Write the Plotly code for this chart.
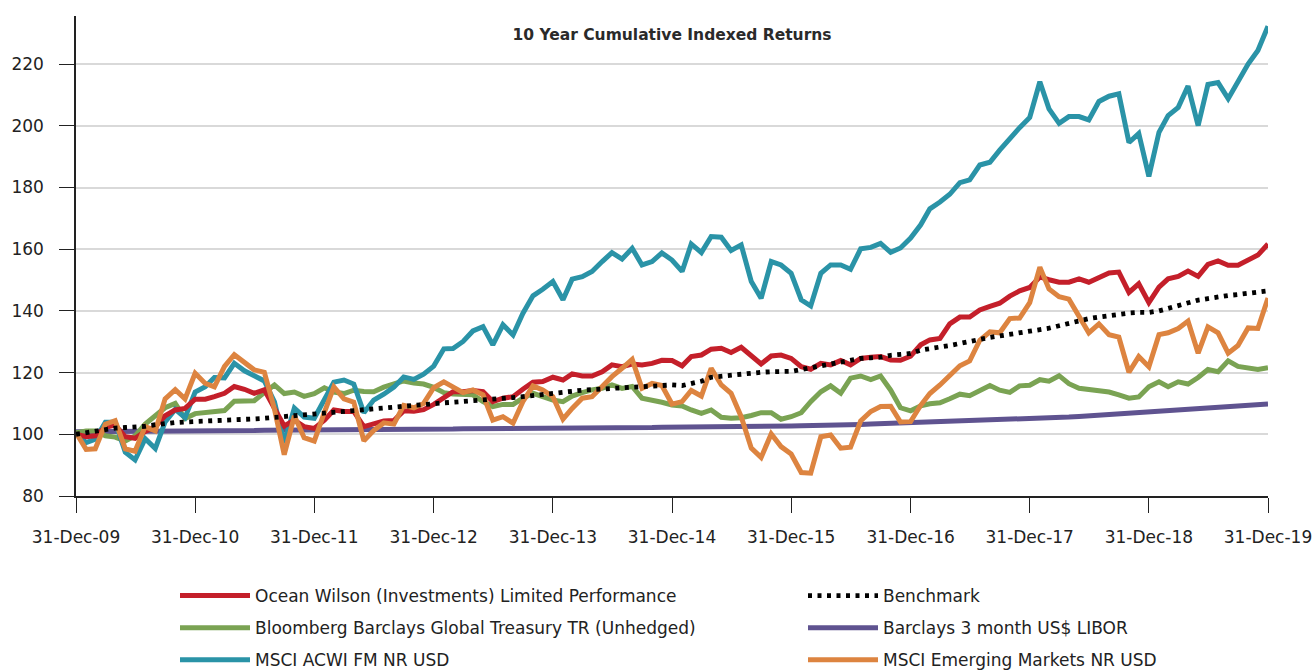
import calendar
import plotly.graph_objects as go

# ---- data -------------------------------------------------------------
months = []
for y in range(2009, 2020):
    for m in range(1, 13):
        if (y == 2009 and m < 12):
            continue
        months.append(f"{y}-{m:02d}-{calendar.monthrange(y, m)[1]:02d}")

tick_dates = [f"{y}-12-31" for y in range(2009, 2020)]
tick_labels = [f"31-Dec-{str(y)[2:]}" for y in range(2009, 2020)]

ocean_wilson = [
    100.0, 99.2, 99.5, 102.3, 103.0, 99.2, 98.7, 100.9, 102.5, 106.0, 107.9, 108.4,
    111.4, 111.4, 112.2, 113.3, 115.5, 114.6, 113.3, 114.4, 108.4, 102.7, 104.6, 102.5,
    101.9, 104.6, 107.9, 107.4, 107.4, 102.5, 103.4, 104.3, 104.5, 107.6, 107.5, 108.0,
    109.7, 111.8, 113.8, 113.8, 114.2, 113.8, 110.6, 111.7, 112.2, 114.6, 116.9, 117.1,
    118.5, 117.6, 119.6, 118.9, 118.9, 120.3, 122.5, 121.9, 122.8, 122.5, 123.0, 124.0,
    123.9, 122.2, 125.2, 125.7, 127.6, 127.9, 126.5, 128.2, 125.4, 122.8, 125.4, 125.7,
    124.6, 121.9, 121.1, 123.0, 122.5, 123.9, 122.5, 124.6, 125.0, 125.2, 124.1, 124.0,
    125.3, 129.0, 130.6, 131.1, 135.8, 138.0, 138.0, 140.3, 141.5, 142.5, 144.8, 146.5,
    147.6, 151.0, 150.1, 149.3, 149.3, 150.4, 149.3, 151.0, 152.3, 152.6, 146.0, 148.8,
    142.7, 147.7, 150.4, 151.2, 152.9, 151.2, 155.1, 156.2, 154.8, 154.8, 156.7, 158.1,
    161.7,
]

benchmark = [
    100.0, 100.6, 101.1, 101.6, 102.0, 102.2, 102.3, 102.6, 103.1, 103.6, 103.8, 104.0,
    104.1, 104.2, 104.4, 104.5, 104.7, 104.9, 105.0, 105.2, 105.5, 105.7, 106.0, 106.3,
    106.6, 106.9, 107.3, 107.6, 107.8, 108.2, 108.4, 108.5, 108.7, 109.1, 109.5, 109.8,
    110.0, 110.2, 110.4, 110.6, 110.8, 111.2, 111.5, 111.7, 111.9, 112.2, 112.6, 113.0,
    113.3, 113.7, 114.0, 114.3, 114.5, 114.7, 114.9, 115.1, 115.3, 115.5, 115.6, 115.8,
    116.0, 115.8, 116.4, 117.2, 118.5, 118.9, 119.3, 119.6, 119.9, 120.1, 120.3, 120.3,
    120.4, 121.0, 121.6, 122.4, 122.9, 123.5, 124.3, 124.6, 124.8, 125.0, 125.6, 126.0,
    126.2, 127.3, 127.9, 128.3, 128.8, 129.5, 130.3, 130.8, 131.4, 131.9, 132.4, 132.9,
    133.2, 133.6, 134.4, 135.2, 136.0, 136.9, 137.5, 138.0, 138.5, 138.9, 139.3, 139.5,
    139.5, 140.0, 140.8, 141.8, 142.8, 143.5, 144.0, 144.6, 145.0, 145.3, 145.6, 146.0,
    146.5,
]

global_treasury = [
    100.5, 101.1, 101.1, 99.5, 99.1, 97.8, 99.5, 103.3, 106.0, 108.6, 110.0, 105.1,
    106.7, 107.0, 107.1, 107.7, 110.7, 110.7, 110.9, 113.5, 116.0, 113.2, 113.7, 112.3,
    113.2, 115.1, 113.7, 113.2, 114.3, 113.9, 113.8, 115.3, 116.2, 117.3, 116.6, 116.3,
    115.2, 113.5, 113.1, 112.8, 112.8, 110.6, 109.0, 109.7, 109.7, 111.7, 113.3, 112.2,
    111.1, 110.6, 112.4, 113.5, 114.4, 114.9, 116.0, 114.9, 115.5, 111.7, 111.1, 110.4,
    109.5, 109.2, 107.9, 106.8, 107.9, 105.5, 105.2, 105.4, 106.1, 107.0, 107.0, 104.9,
    105.7, 107.0, 110.6, 113.8, 115.7, 113.3, 118.2, 118.9, 117.7, 118.9, 114.3, 108.6,
    107.6, 109.2, 109.9, 110.2, 111.5, 113.0, 112.5, 114.2, 115.8, 114.3, 113.6, 115.7,
    115.9, 117.7, 117.2, 119.0, 116.4, 114.9, 114.6, 113.9, 113.7, 112.8, 111.7, 112.1,
    115.4, 117.0, 115.4, 117.0, 116.3, 118.4, 121.0, 120.3, 123.8, 122.0, 121.6, 121.0,
    121.6,
]

libor_3m = [
    100.8, 100.8, 100.9, 100.9, 100.9, 100.9, 101.0, 101.0, 101.0, 101.0, 101.1, 101.1,
    101.1, 101.1, 101.1, 101.2, 101.2, 101.2, 101.2, 101.3, 101.3, 101.3, 101.3, 101.4,
    101.4, 101.4, 101.4, 101.5, 101.5, 101.5, 101.5, 101.6, 101.6, 101.6, 101.6, 101.7,
    101.7, 101.7, 101.7, 101.8, 101.8, 101.8, 101.8, 101.9, 101.9, 101.9, 101.9, 102.0,
    102.0, 102.0, 102.0, 102.1, 102.1, 102.1, 102.1, 102.2, 102.2, 102.2, 102.2, 102.3,
    102.3, 102.3, 102.4, 102.4, 102.4, 102.5, 102.5, 102.5, 102.6, 102.6, 102.6, 102.7,
    102.7, 102.8, 102.8, 102.9, 103.0, 103.0, 103.1, 103.2, 103.3, 103.4, 103.4, 103.5,
    103.6, 103.7, 103.8, 103.9, 104.0, 104.1, 104.2, 104.3, 104.4, 104.5, 104.6, 104.7,
    104.9, 105.0, 105.2, 105.4, 105.6, 105.8, 106.0, 106.2, 106.4, 106.6, 106.8, 107.0,
    107.2, 107.4, 107.6, 107.8, 108.0, 108.2, 108.4, 108.6, 108.8, 109.0, 109.3, 109.5,
    109.8,
]

msci_acwi = [
    100.3, 97.3, 98.4, 103.9, 103.9, 94.2, 91.7, 98.6, 95.4, 104.0, 108.1, 105.4,
    113.7, 115.4, 118.4, 118.3, 123.0, 120.6, 119.0, 117.3, 110.5, 97.2, 108.5, 105.6,
    105.2, 111.6, 116.9, 117.6, 116.3, 107.0, 111.1, 113.0, 115.3, 118.6, 117.8, 119.5,
    122.1, 127.7, 127.8, 130.1, 133.5, 134.9, 129.0, 135.5, 132.2, 139.2, 144.9, 147.0,
    149.5, 143.6, 150.3, 151.1, 152.8, 156.0, 158.9, 156.8, 160.3, 154.9, 156.0, 158.8,
    156.5, 152.8, 161.7, 158.9, 164.1, 163.9, 159.6, 161.4, 149.5, 144.1, 156.0, 154.9,
    152.2, 143.6, 141.6, 152.2, 154.9, 154.9, 153.5, 160.1, 160.6, 161.9, 159.0, 160.4,
    163.6, 167.9, 173.1, 175.3, 177.8, 181.6, 182.5, 187.3, 188.2, 192.1, 195.9, 199.4,
    202.7, 214.3, 205.5, 200.8, 203.0, 203.0, 201.9, 207.9, 209.6, 210.4, 194.6, 197.5,
    183.6, 197.9, 203.3, 206.0, 212.9, 200.1, 213.4, 214.0, 208.8, 214.0, 220.0, 224.4,
    232.3,
]

msci_em = [
    100.5, 95.1, 95.3, 103.3, 104.4, 95.3, 94.5, 102.5, 101.1, 111.5, 114.5, 111.5,
    119.8, 116.5, 115.4, 122.0, 125.8, 123.1, 120.9, 120.1, 108.2, 93.4, 106.0, 98.9,
    97.8, 107.1, 115.4, 111.5, 110.4, 97.9, 101.2, 103.7, 103.3, 109.4, 108.6, 110.0,
    115.1, 117.0, 115.5, 113.5, 114.4, 112.8, 104.6, 105.7, 103.6, 110.6, 115.7, 114.4,
    112.2, 104.9, 108.4, 111.7, 112.2, 115.5, 118.7, 121.4, 124.3, 114.9, 116.5, 115.8,
    109.8, 110.6, 114.2, 112.4, 121.4, 116.0, 113.3, 105.7, 95.5, 92.5, 100.1, 96.0,
    93.6, 87.6, 87.4, 99.2, 99.8, 95.5, 95.8, 104.3, 107.4, 109.0, 109.1, 104.0,
    104.1, 109.4, 113.2, 116.0, 119.0, 122.2, 123.8, 130.5, 133.2, 132.9, 137.5, 137.7,
    142.7, 154.2, 147.1, 144.6, 143.8, 138.4, 132.9, 135.8, 132.3, 131.5, 120.1, 125.2,
    121.9, 132.3, 132.9, 134.3, 136.7, 126.3, 134.8, 132.9, 126.3, 128.8, 134.5, 134.3,
    144.2,
]

names = {
    "ow": "Ocean Wilson (Investments) Limited Performance",
    "bm": "Benchmark",
    "gt": "Bloomberg Barclays Global Treasury TR (Unhedged)",
    "lb": "Barclays 3 month US$ LIBOR",
    "ac": "MSCI ACWI FM NR USD",
    "em": "MSCI Emerging Markets NR USD",
}

# ---- figure -----------------------------------------------------------
FONT = "DejaVu Sans, Verdana, sans-serif"
LW = 5
W, H = 1314, 670
ML, MR, MT, MB = 76, 46, 16, 174
PW, PH = W - ML - MR, H - MT - MB

fig = go.Figure()

def add(y, key, color, legend, rank, dash=None, width=LW):
    fig.add_trace(go.Scatter(
        x=months, y=y, mode="lines", name=names[key],
        line=dict(color=color, width=width, dash=dash),
        legend=legend, legendrank=rank, legendgroup=key,
        hoverinfo="skip",
    ))

# drawing order (bottom -> top)
add(libor_3m, "lb", "#5F5390", "legend2", 2)
add(global_treasury, "gt", "#7AA353", "legend", 2)
add(msci_acwi, "ac", "#2A93A7", "legend", 3)
add(ocean_wilson, "ow", "#C41F2A", "legend", 1)
add(msci_em, "em", "#DD8440", "legend2", 3)
add(benchmark, "bm", "#000000", "legend2", 1, dash="4px,5.5px", width=4.8)

legend_common = dict(
    orientation="v", xanchor="left", yanchor="top",
    xref="paper", yref="paper",
    font=dict(family=FONT, size=17, color="#222"),
    bgcolor="rgba(0,0,0,0)", borderwidth=0,
    tracegroupgap=7, itemwidth=70,
)

fig.update_layout(
    width=W, height=H,
    margin=dict(l=ML, r=MR, t=MT, b=MB, autoexpand=False),
    paper_bgcolor="white", plot_bgcolor="white",
    font=dict(family=FONT, color="#222"),
    title=dict(
        text="<b>10 Year Cumulative Indexed Returns</b>",
        x=672 / W, xanchor="center", xref="container",
        y=1 - 35 / H, yanchor="middle", yref="container",
        font=dict(family=FONT, size=15.5, color="#2a2a2a"),
    ),
    showlegend=True,
    legend=dict(x=(175 - ML) / PW, y=(H - MB - 578) / PH, **legend_common),
    legend2=dict(x=(803 - ML) / PW, y=(H - MB - 578) / PH, **legend_common),
    xaxis=dict(
        type="date",
        range=[months[0], months[-1]],
        tickvals=tick_dates, ticktext=tick_labels,
        showgrid=False, zeroline=False,
        showline=True, linecolor="#222", linewidth=1.5,
        ticks="outside", ticklen=15, tickwidth=1.3, tickcolor="#222",
        tickfont=dict(family=FONT, size=17, color="#222"),
        ticklabelstandoff=10,
    ),
    yaxis=dict(
        range=[80, 235.6],
        tickvals=[80, 100, 120, 140, 160, 180, 200, 220],
        showgrid=True, gridcolor="#d9d9d9", gridwidth=1.5,
        zeroline=False,
        showline=True, linecolor="#222", linewidth=1.5,
        ticks="outside", ticklen=15, tickwidth=1.3, tickcolor="#222",
        tickfont=dict(family=FONT, size=17, color="#222"),
        ticklabelstandoff=12,
    ),
)

fig.write_html(
    "out.html",
    config={"displayModeBar": False},
    post_script="document.body.style.margin='0px';document.body.style.overflow='hidden';",
)
